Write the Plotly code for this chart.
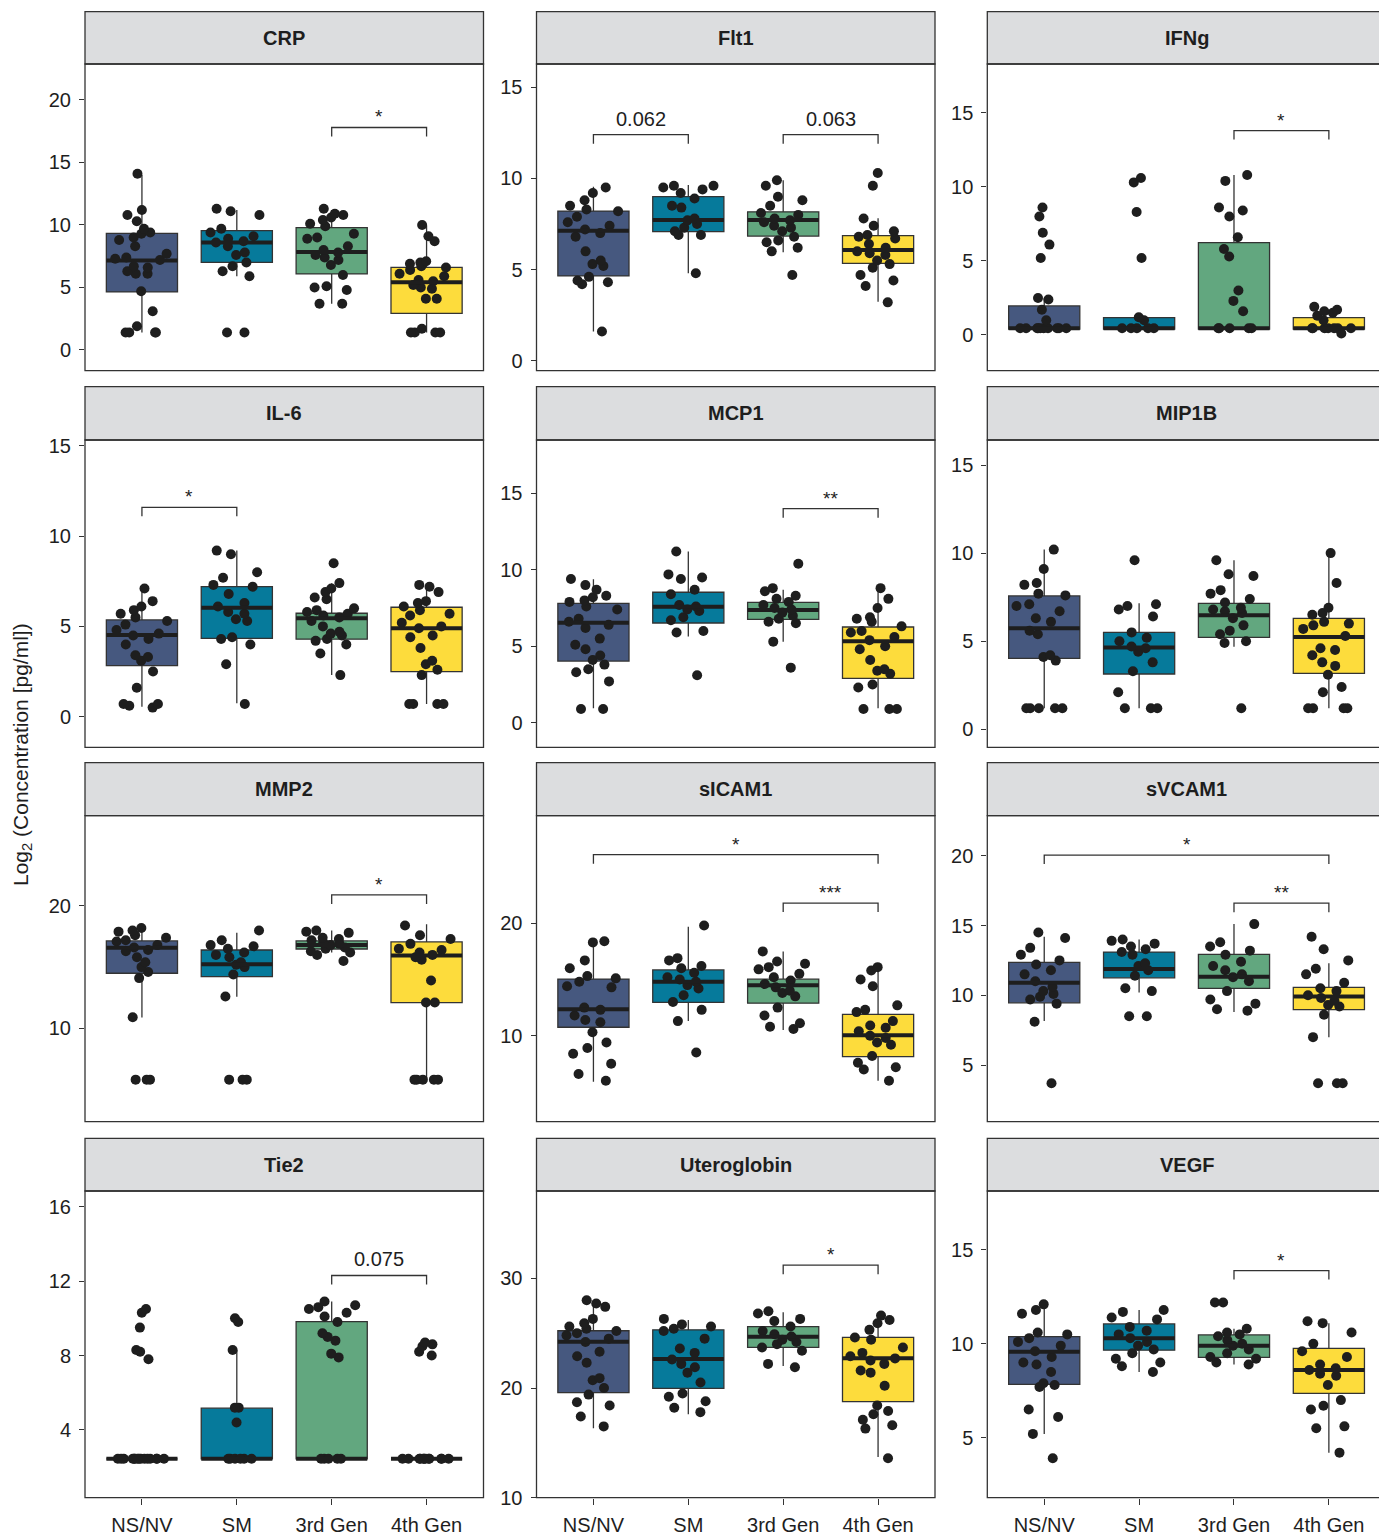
import plotly.graph_objects as go

W, H = 1379, 1536
FONT = "Liberation Sans, Arial, Helvetica, sans-serif"

GROUPS = ["NS/NV", "SM", "3rd Gen", "4th Gen"]
GROUP_COLORS = ["#46587F", "#067A9B", "#62A77F", "#FDDC3C"]

# ---- box summaries per group: (lower whisker, q1, median, q3, upper whisker) ----
crp_box = [(1.4, 4.64, 7.15, 9.33, 14.0), (5.9, 7.0, 8.6, 9.55, 11.2),
           (3.7, 6.08, 7.84, 9.79, 11.2), (1.4, 2.93, 5.41, 6.61, 9.95)]
flt1_box = [(1.6, 4.65, 7.13, 8.21, 9.55), (4.8, 7.08, 7.72, 9.0, 9.64),
            (5.95, 6.84, 7.72, 8.17, 9.9), (3.24, 5.34, 6.07, 6.86, 7.81)]
ifng_box = [(0.4, 0.4, 0.45, 1.96, 2.5), (0.4, 0.4, 0.45, 1.17, 1.17),
            (0.4, 0.4, 0.45, 6.23, 10.8), (0.4, 0.4, 0.45, 1.17, 1.17)]
il6_box = [(0.55, 2.83, 4.53, 5.36, 7.1), (0.74, 4.34, 6.04, 7.2, 9.2),
           (2.31, 4.29, 5.45, 5.73, 7.39), (0.7, 2.49, 4.9, 6.06, 7.3)]
mcp1_box = [(0.94, 4.03, 6.54, 7.81, 9.38), (5.63, 6.52, 7.59, 8.53, 11.2),
            (5.3, 6.76, 7.37, 7.87, 8.7), (0.95, 2.9, 5.32, 6.26, 8.8)]
mip1b_box = [(1.19, 4.03, 5.73, 7.57, 10.2), (1.2, 3.14, 4.65, 5.5, 7.15),
             (4.69, 5.22, 6.47, 7.15, 9.6), (1.2, 3.18, 5.24, 6.3, 10.0)]
mmp2_box = [(10.87, 14.5, 16.59, 17.14, 18.04), (12.58, 14.22, 15.23, 16.4, 17.8),
            (16.2, 16.48, 16.81, 17.14, 18.0), (5.8, 12.1, 15.94, 17.06, 18.5)]
sicam1_box = [(5.9, 10.75, 12.35, 15.04, 18.4), (11.3, 12.97, 14.8, 15.85, 19.7),
              (10.5, 12.89, 14.49, 15.03, 17.5), (6.0, 8.13, 10.04, 11.9, 16.0)]
svcam1_box = [(8.15, 9.46, 10.9, 12.36, 14.2), (10.2, 11.25, 11.88, 13.1, 14.0),
              (8.8, 10.49, 11.33, 12.93, 15.1), (7.0, 8.97, 9.92, 10.56, 12.3)]
tie2_box = [(2.45, 2.45, 2.45, 2.45, 2.45), (2.45, 2.45, 2.45, 5.17, 8.3),
            (2.45, 2.45, 2.45, 9.82, 10.9), (2.45, 2.45, 2.45, 2.45, 2.45)]
utero_box = [(16.33, 19.57, 24.22, 25.22, 27.87), (17.6, 19.97, 22.65, 25.3, 26.2),
             (22.0, 23.71, 24.68, 25.59, 26.9), (13.7, 18.75, 22.71, 24.62, 26.5)]
vegf_box = [(5.2, 7.84, 9.58, 10.38, 12.0), (8.5, 9.66, 10.3, 11.06, 11.8),
            (8.9, 9.28, 9.9, 10.47, 10.8), (4.2, 7.36, 8.61, 9.76, 11.1)]

# ---- individual measurements per group ----
crp_pts = [
    [14.1, 11.2, 10.8, 10.3, 9.7, 9.4, 9.3, 9.0, 8.8, 8.3, 7.7, 7.4, 7.3, 7.2, 6.7, 6.6, 6.3, 6.1, 6.1, 4.7, 3.1, 1.9, 1.4, 1.4, 1.4, 1.4],
    [11.3, 11.1, 10.8, 9.7, 9.4, 9.1, 8.9, 8.7, 8.6, 8.3, 7.8, 7.6, 7.0, 6.7, 6.3, 5.9, 1.4, 1.4],
    [11.3, 10.9, 10.8, 10.6, 10.4, 10.1, 9.9, 9.3, 9.0, 8.9, 8.3, 8.0, 7.8, 7.6, 7.4, 7.2, 6.8, 6.0, 5.1, 5.0, 4.8, 3.7, 3.7],
    [10.0, 9.1, 8.7, 7.1, 7.0, 6.9, 6.7, 6.6, 6.4, 6.1, 5.9, 5.6, 5.5, 5.2, 5.0, 4.9, 4.1, 4.1, 1.7, 1.4, 1.4, 1.4, 1.4],
]
flt1_pts = [
    [9.5, 9.2, 8.8, 8.5, 8.3, 8.2, 7.9, 7.6, 7.4, 7.2, 7.0, 6.8, 6.0, 5.5, 5.3, 5.2, 4.6, 4.4, 4.3, 4.2, 1.6],
    [9.6, 9.6, 9.5, 9.4, 9.2, 8.9, 8.5, 8.4, 7.8, 7.7, 7.5, 7.3, 7.1, 6.9, 6.9, 4.8],
    [9.9, 9.6, 9.0, 8.8, 8.5, 8.1, 8.0, 7.8, 7.7, 7.6, 7.4, 7.3, 7.1, 6.8, 6.6, 6.5, 6.2, 6.0, 4.7],
    [10.3, 9.6, 7.8, 7.4, 7.1, 6.9, 6.8, 6.7, 6.4, 6.2, 6.0, 5.9, 5.8, 5.5, 5.3, 5.1, 4.7, 4.4, 4.1, 3.2],
]
ifng_pts = [
    [8.6, 8.0, 6.9, 6.1, 5.2, 2.5, 2.4, 1.7, 1.0, 0.45, 0.45, 0.45, 0.45, 0.45, 0.45, 0.45, 0.45, 0.45, 0.45],
    [10.6, 10.3, 8.3, 5.2, 1.2, 1.0, 0.45, 0.45, 0.45, 0.45, 0.45],
    [10.8, 10.4, 8.6, 8.4, 8.0, 6.6, 5.8, 5.3, 3.0, 2.3, 1.6, 0.45, 0.45, 0.45, 0.45, 0.45],
    [1.9, 1.7, 1.6, 1.5, 1.3, 1.0, 0.45, 0.45, 0.45, 0.45, 0.45, 0.45, 0.45, 0.1],
]
il6_pts = [
    [7.1, 6.4, 6.1, 5.9, 5.7, 5.5, 5.3, 5.1, 4.8, 4.6, 4.5, 4.3, 4.0, 3.4, 3.3, 3.1, 2.5, 1.6, 0.7, 0.7, 0.6, 0.5],
    [9.2, 9.0, 8.0, 7.7, 7.3, 7.2, 6.8, 6.3, 6.1, 5.8, 5.7, 5.4, 5.3, 4.4, 4.3, 4.0, 2.9, 0.7],
    [8.5, 7.4, 7.1, 6.9, 6.6, 6.5, 6.0, 5.9, 5.8, 5.7, 5.6, 5.5, 5.3, 5.0, 4.7, 4.6, 4.5, 4.3, 4.2, 4.0, 3.5, 2.3],
    [7.3, 7.2, 6.9, 6.4, 6.3, 6.1, 5.9, 5.7, 5.6, 5.2, 5.0, 4.9, 4.5, 4.4, 3.8, 3.1, 2.9, 2.6, 2.3, 0.7, 0.7, 0.7, 0.7],
]
mcp1_pts = [
    [9.4, 9.0, 8.7, 8.3, 8.2, 8.0, 7.9, 7.6, 7.4, 6.8, 6.6, 6.4, 6.2, 5.5, 5.1, 4.8, 4.4, 4.1, 3.8, 3.5, 3.3, 2.7, 0.9, 0.9],
    [11.2, 9.7, 9.5, 9.4, 8.7, 8.4, 7.7, 7.6, 7.4, 7.3, 6.9, 6.7, 6.0, 5.9, 3.1],
    [10.4, 8.8, 8.6, 8.3, 8.1, 7.9, 7.7, 7.5, 7.4, 7.2, 7.0, 6.8, 6.6, 6.5, 5.3, 3.6],
    [8.8, 8.1, 7.5, 6.9, 6.8, 6.6, 6.3, 6.0, 5.9, 5.6, 5.4, 5.0, 4.8, 4.1, 3.5, 3.4, 3.2, 2.5, 2.3, 0.9, 0.9, 0.9],
]
mip1b_pts = [
    [10.2, 9.1, 8.3, 8.2, 7.7, 7.6, 7.1, 7.0, 6.7, 6.3, 6.1, 5.6, 5.4, 4.2, 4.1, 3.9, 1.2, 1.2, 1.2, 1.2, 1.2],
    [9.6, 7.1, 7.0, 6.8, 6.4, 5.5, 5.2, 5.0, 4.7, 4.6, 4.4, 3.8, 3.3, 2.1, 1.2, 1.2, 1.2],
    [9.6, 8.8, 8.7, 7.9, 7.7, 7.4, 7.2, 6.9, 6.8, 6.7, 6.6, 6.3, 5.9, 5.6, 5.4, 5.0, 4.9, 1.2],
    [10.0, 8.3, 6.9, 6.6, 6.5, 6.1, 6.0, 5.9, 5.7, 5.3, 4.6, 4.5, 4.2, 3.8, 3.6, 3.1, 2.4, 2.1, 1.2, 1.2, 1.2, 1.2],
]
mmp2_pts = [
    [18.2, 18.0, 17.9, 17.6, 17.4, 17.2, 17.1, 16.8, 16.6, 16.4, 16.3, 15.8, 15.4, 15.0, 14.6, 14.1, 10.9, 5.8, 5.8, 5.8],
    [18.0, 17.2, 16.8, 16.7, 16.5, 16.2, 16.0, 15.8, 15.4, 15.2, 15.0, 14.4, 12.6, 5.8, 5.8, 5.8],
    [18.0, 17.9, 17.8, 17.4, 17.3, 17.2, 17.0, 16.9, 16.8, 16.6, 16.5, 16.3, 16.2, 16.0, 15.5],
    [18.4, 17.6, 17.3, 16.9, 16.5, 16.4, 16.2, 16.0, 15.8, 15.6, 13.9, 12.1, 12.1, 5.8, 5.8, 5.8, 5.8, 5.8],
]
sicam1_pts = [
    [18.4, 18.3, 16.7, 16.0, 15.3, 15.1, 14.8, 14.4, 14.3, 12.5, 12.3, 11.8, 11.4, 11.2, 10.3, 9.4, 8.9, 8.4, 7.5, 6.6, 6.0],
    [19.8, 16.9, 16.7, 16.2, 16.0, 15.6, 15.2, 15.0, 14.8, 14.5, 14.2, 13.6, 13.0, 12.3, 11.3, 8.5],
    [17.5, 16.6, 16.4, 16.1, 15.9, 15.5, 15.2, 14.9, 14.6, 14.3, 14.0, 13.8, 13.5, 12.5, 11.8, 11.1, 10.8, 10.6],
    [16.1, 15.8, 15.0, 14.4, 12.7, 12.3, 12.1, 11.3, 10.9, 10.7, 10.4, 10.0, 9.8, 9.4, 9.2, 8.2, 7.6, 7.2, 7.0, 6.0],
]
svcam1_pts = [
    [14.5, 14.1, 13.4, 12.9, 12.5, 12.2, 11.8, 11.5, 11.0, 10.6, 10.3, 10.1, 9.9, 9.7, 9.4, 8.1, 3.7],
    [14.0, 13.9, 13.7, 13.5, 13.3, 13.1, 12.9, 12.3, 12.1, 11.8, 11.4, 10.5, 10.3, 8.5, 8.5],
    [15.1, 13.8, 13.5, 13.2, 12.9, 12.4, 12.1, 11.8, 11.5, 11.3, 11.0, 10.3, 9.7, 9.4, 9.0, 8.9],
    [14.2, 13.3, 12.5, 11.9, 11.5, 10.9, 10.5, 10.3, 10.0, 9.8, 9.6, 9.3, 9.2, 8.6, 7.0, 3.7, 3.7, 3.7],
]
tie2_pts = [
    [10.5, 10.3, 9.5, 8.3, 8.2, 7.8] + [2.45] * 15,
    [10.0, 9.8, 8.3, 5.2, 5.2, 4.4] + [2.45] * 6,
    [10.9, 10.7, 10.6, 10.5, 10.3, 10.1, 9.8, 9.2, 9.0, 8.8, 8.1, 7.9] + [2.45] * 5,
    [8.7, 8.6, 8.5, 8.2, 8.0] + [2.45] * 12,
]
utero_pts = [
    [28.0, 27.7, 27.4, 26.3, 25.9, 25.6, 25.4, 25.2, 25.0, 24.8, 24.5, 24.2, 23.3, 22.9, 22.3, 20.9, 20.7, 20.0, 19.4, 18.7, 18.4, 17.4, 16.5],
    [26.3, 25.8, 25.6, 25.4, 25.2, 24.5, 23.6, 23.2, 22.6, 22.2, 21.9, 21.4, 20.5, 19.5, 19.2, 18.8, 18.2, 17.8],
    [27.0, 26.8, 26.3, 26.1, 25.6, 25.2, 24.9, 24.7, 24.4, 24.2, 24.0, 23.7, 23.4, 22.2, 21.9],
    [26.6, 26.2, 25.9, 25.3, 24.6, 24.4, 23.7, 23.2, 22.9, 22.7, 22.5, 22.2, 21.6, 21.4, 20.2, 18.4, 17.9, 17.6, 17.1, 16.6, 16.3, 13.6],
]
vegf_pts = [
    [12.1, 11.8, 11.6, 10.6, 10.5, 10.3, 10.1, 9.9, 9.6, 9.3, 9.0, 8.9, 8.5, 7.9, 7.8, 7.7, 6.5, 6.1, 5.2, 3.9],
    [11.8, 11.7, 11.4, 11.3, 10.9, 10.7, 10.5, 10.3, 10.1, 9.9, 9.7, 9.5, 9.2, 9.0, 8.8, 8.5],
    [12.2, 12.2, 10.8, 10.6, 10.5, 10.4, 10.2, 10.0, 9.9, 9.7, 9.5, 9.3, 9.2, 9.0, 8.9],
    [11.2, 11.1, 10.6, 10.0, 9.6, 9.3, 8.9, 8.7, 8.6, 8.4, 8.3, 7.8, 7.0, 6.7, 6.5, 5.6, 5.5, 4.2],
]

# ---- panel metadata (row-major, 3 columns) ----
PANEL_TITLES = ["CRP", "Flt1", "IFNg", "IL-6", "MCP1", "MIP1B",
                "MMP2", "sICAM1", "sVCAM1", "Tie2", "Uteroglobin", "VEGF"]
PANEL_BOXES = [crp_box, flt1_box, ifng_box, il6_box, mcp1_box, mip1b_box,
               mmp2_box, sicam1_box, svcam1_box, tie2_box, utero_box, vegf_box]
PANEL_POINTS = [crp_pts, flt1_pts, ifng_pts, il6_pts, mcp1_pts, mip1b_pts,
                mmp2_pts, sicam1_pts, svcam1_pts, tie2_pts, utero_pts, vegf_pts]
Y_RANGES = [(-1.66, 22.88), (-0.55, 16.28), (-2.41, 18.29),
            (-1.70, 15.33), (-1.61, 18.49), (-1.02, 16.42),
            (2.36, 27.38), (2.35, 29.57), (0.94, 22.87),
            (0.36, 16.84), (10.0, 37.96), (1.80, 18.14)]
Y_TICKS = [[0, 5, 10, 15, 20], [0, 5, 10, 15], [0, 5, 10, 15],
           [0, 5, 10, 15], [0, 5, 10, 15], [0, 5, 10, 15],
           [10, 20], [10, 20], [5, 10, 15, 20],
           [4, 8, 12, 16], [10, 20, 30], [5, 10, 15]]
# significance brackets: (group from, group to, height, label)
BRACKETS = [
    [(3, 4, 17.8, "*")],
    [(1, 2, 12.4, "0.062"), (3, 4, 12.4, "0.063")],
    [(3, 4, 13.8, "*")],
    [(1, 2, 11.6, "*")],
    [(3, 4, 14.0, "**")],
    [],
    [(3, 4, 20.9, "*")],
    [(1, 4, 26.1, "*"), (3, 4, 21.8, "***")],
    [(1, 4, 20.05, "*"), (3, 4, 16.6, "**")],
    [(3, 4, 12.3, "0.075")],
    [(3, 4, 31.2, "*")],
    [(3, 4, 13.9, "*")],
]

# ---- page geometry (pixels) ----
COL_X = [(85.0, 483.5), (536.5, 935.0), (987.3, 1385.8)]
STRIP_Y = [(11.7, 64.0), (386.7, 440.0), (762.7, 815.7), (1138.3, 1191.0)]
PLOT_Y = [(64.0, 370.7), (440.0, 747.3), (815.7, 1121.7), (1191.0, 1497.7)]
X_RANGE = (0.4, 4.6)
BOX_WIDTH = 0.75
INK = "#1E1E1E"
EDGE = "#333333"


def px(x):
    return x / W


def py(y):
    return 1 - y / H


fig = go.Figure()
layout = dict(
    width=W, height=H, margin=dict(l=0, r=0, t=0, b=0, pad=0, autoexpand=False),
    paper_bgcolor="white", plot_bgcolor="white",
    boxmode="overlay", showlegend=False,
    font=dict(family=FONT, size=20, color=INK),
)
shapes = []
annotations = []

for i, title in enumerate(PANEL_TITLES):
    row, col = divmod(i, 3)
    n = i + 1
    xa, ya = f"x{n}", f"y{n}"
    x0p, x1p = COL_X[col]
    top, bot = PLOT_Y[row]
    # visible part of the panel (last column runs past the page edge)
    vis_right = min(x1p, W)
    upp = (X_RANGE[1] - X_RANGE[0]) / (x1p - x0p)
    xr = (X_RANGE[0], X_RANGE[0] + (vis_right - x0p) * upp)
    bottom_row = row == 3

    layout[f"xaxis{n}"] = dict(
        domain=[px(x0p), px(vis_right)], range=list(xr), anchor=ya,
        tickvals=[1, 2, 3, 4], ticktext=GROUPS,
        showticklabels=bottom_row, ticks="outside" if bottom_row else "",
        ticklen=6, tickcolor=EDGE, tickwidth=1.2, ticklabelstandoff=3,
        tickfont=dict(size=20, color=INK), automargin=False,
        showgrid=False, zeroline=False, showline=False, fixedrange=True,
    )
    yr = Y_RANGES[i]
    layout[f"yaxis{n}"] = dict(
        domain=[py(bot), py(top)], range=list(yr), anchor=xa,
        tickvals=Y_TICKS[i], ticks="outside", ticklen=5,
        tickcolor=EDGE, tickwidth=1.2, ticklabelstandoff=4,
        tickfont=dict(size=20, color=INK), automargin=False,
        showgrid=False, zeroline=False, showline=False, fixedrange=True,
    )

    # panel frame and strip
    shapes.append(dict(type="rect", xref="paper", yref="paper",
                       x0=px(x0p), x1=px(x1p), y0=py(bot), y1=py(top),
                       line=dict(color=EDGE, width=1.3), fillcolor="rgba(0,0,0,0)",
                       layer="above"))
    s0, s1 = STRIP_Y[row]
    shapes.append(dict(type="rect", xref="paper", yref="paper",
                       x0=px(x0p), x1=px(x1p), y0=py(s1), y1=py(s0),
                       line=dict(color=EDGE, width=1.3), fillcolor="#DCDDDF",
                       layer="below"))
    annotations.append(dict(xref="paper", yref="paper",
                            x=px((x0p + x1p) / 2), y=py((s0 + s1) / 2),
                            text=f"<b>{title}</b>", showarrow=False,
                            font=dict(size=20, color=INK, family=FONT),
                            xanchor="center", yanchor="middle"))

    # boxes, median bars and jittered points
    for g, (stats, pts) in enumerate(zip(PANEL_BOXES[i], PANEL_POINTS[i])):
        k = g + 1
        lo, q1, med, q3, hi = stats
        fig.add_trace(go.Box(
            x=[k], q1=[q1], median=[med], q3=[q3],
            lowerfence=[lo], upperfence=[hi],
            width=BOX_WIDTH, whiskerwidth=0, boxpoints=False,
            fillcolor=GROUP_COLORS[g], line=dict(color=EDGE, width=1.3),
            xaxis=xa, yaxis=ya, hoverinfo="skip",
        ))
        fig.add_trace(go.Scatter(
            x=[k - BOX_WIDTH / 2, k + BOX_WIDTH / 2], y=[med, med],
            mode="lines", line=dict(color=INK, width=4),
            xaxis=xa, yaxis=ya, hoverinfo="skip",
        ))
        fig.add_trace(go.Box(
            x=[k] * len(pts), y=pts, boxpoints="all", jitter=0.8, pointpos=0,
            width=BOX_WIDTH, fillcolor="rgba(0,0,0,0)",
            line=dict(color="rgba(0,0,0,0)", width=0),
            marker=dict(color=INK, size=10, line=dict(width=0)),
            xaxis=xa, yaxis=ya, hoverinfo="y",
        ))

    # significance brackets
    span = yr[1] - yr[0]
    drop = 9 * span / (bot - top)
    for a, b, level, label in BRACKETS[i]:
        shapes.append(dict(type="path", xref=xa, yref=ya,
                           path=f"M {a},{level - drop} L {a},{level} L {b},{level} L {b},{level - drop}",
                           line=dict(color=EDGE, width=1.3)))
        star = label.startswith("*")
        annotations.append(dict(xref=xa, yref=ya, x=(a + b) / 2, y=level,
                                text=label, showarrow=False,
                                xanchor="center", yanchor="bottom",
                                yshift=-2 if star else 3,
                                font=dict(size=19 if star else 20, color=INK, family=FONT)))

# shared y-axis title
annotations.append(dict(xref="paper", yref="paper", x=px(22), y=py(755),
                        text="Log<sub>2</sub> (Concentration [pg/ml])",
                        textangle=-90, showarrow=False,
                        xanchor="center", yanchor="middle",
                        font=dict(size=21, color=INK, family=FONT)))

layout["shapes"] = shapes
layout["annotations"] = annotations
fig.update_layout(**layout)
fig.write_html("out.html")
